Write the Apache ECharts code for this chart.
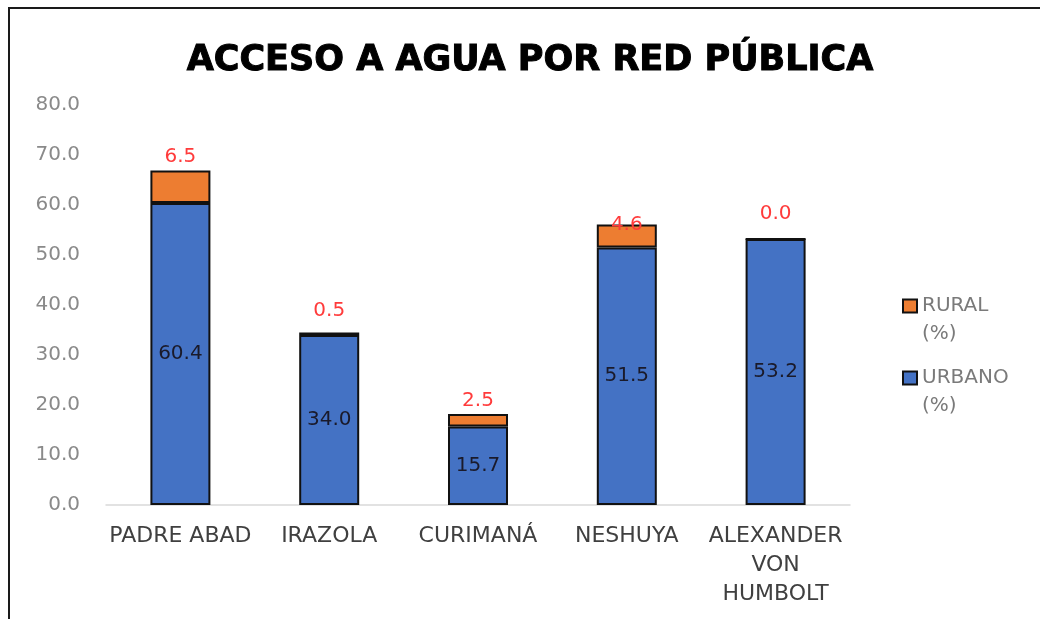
<!DOCTYPE html>
<html>
<head>
<meta charset="utf-8">
<script src="https://cdn.jsdelivr.net/npm/echarts@6/dist/echarts.min.js"></script>
<style>
  html, body { margin: 0; padding: 0; background: #fff; }
  #frame { position: absolute; left: 8px; top: 7px; width: 1100px; height: 700px;
           border-left: 2px solid #1a1a1a; border-top: 2px solid #1a1a1a; }
  #chart { position: absolute; left: 0; top: 0; width: 1040px; height: 619px; }
</style>
</head>
<body>
<div id="frame"></div>
<div id="chart"></div>
<script>
// datos
const categorias = ['PADRE ABAD', 'IRAZOLA', 'CURIMANÁ', 'NESHUYA', 'ALEXANDER\nVON\nHUMBOLT'];
const urbano = [60.4, 34.0, 15.7, 51.5, 53.2];
const rural = [6.5, 0.5, 2.5, 4.6, 0.0];
const ejeY = ['0.0', '10.0', '20.0', '30.0', '40.0', '50.0', '60.0', '70.0', '80.0'];

// distancia de la etiqueta roja sobre la barra (estilo)
const rojoDist = [4, 12, 3, -10, 14];

const chart = echarts.init(document.getElementById('chart'), null, { renderer: 'canvas' });

const option = {
  backgroundColor: 'transparent',
  animation: false,
  title: {
    text: 'ACCESO A AGUA POR RED PÚBLICA',
    left: 525,
    textAlign: 'center',
    top: 38,
    textStyle: {
      fontFamily: 'DejaVu Sans', fontWeight: 'bold', fontSize: 35, color: '#000',
      textBorderColor: '#000', textBorderWidth: 1
    }
  },
  legend: {
    orient: 'vertical',
    left: 897,
    top: 259,
    icon: 'rect',
    itemWidth: 14,
    itemHeight: 13,
    itemGap: -12,
    data: ['RURAL', 'URBANO'],
    formatter: function (n) { return ' \n' + n + '\n(%)'; },
    textStyle: { fontFamily: 'DejaVu Sans', fontSize: 20, color: '#7a7a7a', lineHeight: 28 },
    itemStyle: { borderColor: '#111', borderWidth: 2 }
  },
  grid: { left: 106, right: 190, top: 105, bottom: 114 },
  xAxis: {
    type: 'category',
    data: categorias,
    axisLine: { lineStyle: { color: '#d9d9d9', width: 1.5 } },
    axisTick: { show: false },
    axisLabel: {
      interval: 0, margin: 17, fontFamily: 'DejaVu Sans', fontSize: 22,
      color: '#404040', lineHeight: 29
    }
  },
  yAxis: {
    type: 'value',
    min: 0, max: 80, interval: 10,
    splitLine: { show: false },
    axisLine: { show: false },
    axisTick: { show: false },
    axisLabel: {
      margin: 26, fontFamily: 'DejaVu Sans', fontSize: 20, color: '#8a8a8a',
      formatter: function (v) { return ejeY[Math.round(v / 10)]; }
    }
  },
  series: [
    {
      name: 'URBANO',
      type: 'bar',
      stack: 'total',
      barWidth: 60,
      data: urbano,
      itemStyle: { color: '#4472C4', borderColor: '#111', borderWidth: 2 },
      label: {
        show: true, position: 'inside', fontFamily: 'DejaVu Sans', fontSize: 20, color: '#1a1a2a',
        formatter: function (p) { return p.value.toFixed(1); }
      }
    },
    {
      name: 'RURAL',
      type: 'bar',
      stack: 'total',
      barWidth: 60,
      data: rural.map(function (v, i) {
        return { value: v, label: { distance: rojoDist[i] } };
      }),
      itemStyle: { color: '#ED7D31', borderColor: '#111', borderWidth: 2 },
      label: {
        show: true, position: 'top', fontFamily: 'DejaVu Sans', fontSize: 20, color: '#ff3b3b',
        formatter: function (p) { return p.value.toFixed(1); }
      }
    }
  ]
};

chart.setOption(option);
</script>
</body>
</html>
